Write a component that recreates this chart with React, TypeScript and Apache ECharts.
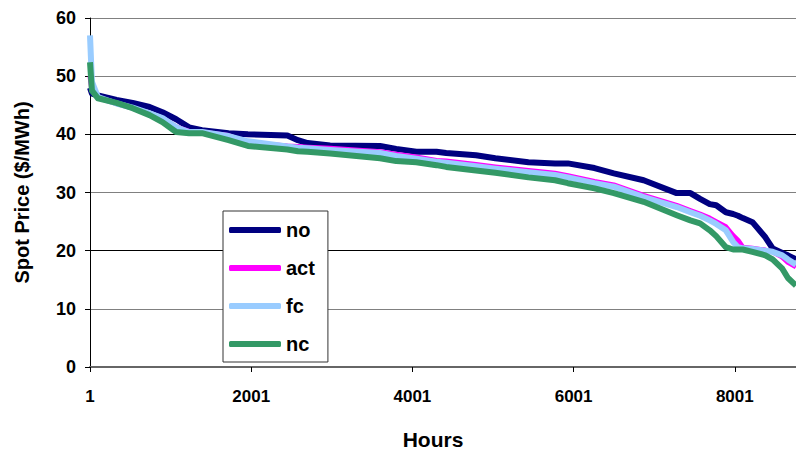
import React, { useEffect, useRef } from "react";
import * as echarts from "echarts";

// Hours elapsed since hour 1 (axis value = hour - 1)
const hours = [1, 25, 100, 330, 530, 740, 900, 1070, 1230, 1390, 1720, 1960, 2450, 2580, 2700, 2980, 3600, 3800, 4050, 4300, 4420, 4790, 5030, 5440, 5770, 5930, 6260, 6500, 6870, 7280, 7450, 7570, 7690, 7770, 7890, 7980, 8040, 8100, 8220, 8380, 8470, 8590, 8660, 8760];

const noValues = [48, 47, 46.7, 45.9, 45.4, 44.7, 43.8, 42.6, 41.2, 40.7, 40.2, 40.0, 39.8, 39.0, 38.5, 38.1, 38.0, 37.5, 37.0, 37.0, 36.8, 36.4, 35.9, 35.2, 35.0, 35.0, 34.2, 33.3, 32.1, 29.9, 29.9, 28.9, 28.0, 27.8, 26.6, 26.3, 26.0, 25.6, 24.9, 22.3, 20.4, 19.6, 19.2, 18.5];
const actValues = [50, 47.5, 46.3, 45.3, 44.5, 43.4, 42.8, 41.3, 40.5, 40.4, 39.8, 38.6, 38.0, 37.9, 37.8, 37.6, 37.0, 36.6, 36.1, 35.5, 35.4, 34.8, 34.4, 33.8, 33.3, 32.9, 31.9, 31.3, 29.5, 27.8, 26.9, 26.3, 25.6, 25.0, 24.1, 22.6, 21.8, 20.6, 20.4, 20.1, 19.8, 18.9, 18.0, 17.2];
const fcValues = [57, 49, 46.4, 45.3, 44.6, 43.6, 42.8, 41.2, 40.4, 40.4, 39.7, 38.8, 37.9, 37.7, 37.6, 37.3, 36.8, 36.3, 35.8, 35.3, 35.1, 34.5, 34.1, 33.5, 33.0, 32.6, 31.6, 31.0, 29.2, 27.5, 26.6, 26.0, 25.2, 24.6, 23.5, 21.5, 20.6, 20.4, 20.3, 20.0, 19.8, 19.2, 18.5, 17.6];
const ncValues = [52.4, 47.5, 46.2, 45.4, 44.5, 43.3, 42.1, 40.4, 40.2, 40.2, 39.0, 38.0, 37.4, 37.1, 37.0, 36.7, 35.9, 35.4, 35.2, 34.7, 34.4, 33.8, 33.4, 32.6, 32.1, 31.6, 30.7, 29.9, 28.4, 26.1, 25.2, 24.7, 23.5, 22.5, 20.6, 20.2, 20.2, 20.2, 19.8, 19.2, 18.5, 16.9, 15.3, 14.0];

const seriesNames = ["no", "act", "fc", "nc"];
const seriesColors = ["#000080", "#FF00FF", "#99CCFF", "#339966"];
const seriesWidths = [6, 5, 6, 6];

const FONT = "'Liberation Sans', Arial, sans-serif";

export default function App() {
  const ref = useRef<HTMLDivElement>(null);
  useEffect(() => {
    document.body.style.margin = "0";
    const chart = echarts.init(ref.current!, null, { renderer: "svg" });
    const all = [noValues, actValues, fcValues, ncValues];
    chart.setOption({
      animation: false,
      backgroundColor: "#ffffff",
      grid: { left: 90, top: 18, bottom: 88, right: -8 },
      legend: {
        orient: "vertical",
        left: 223,
        top: 211,
        padding: [9, 13, 8, 6],
        itemGap: 18,
        itemWidth: 52,
        itemHeight: 6,
        icon: "roundRect",
        borderColor: "#333333",
        borderWidth: 1,
        backgroundColor: "#ffffff",
        textStyle: { fontFamily: FONT, fontWeight: "bold", fontSize: 20, color: "#000", lineHeight: 20 },
        data: seriesNames,
      },
      xAxis: {
        type: "value",
        min: 0,
        max: 8759,
        interval: 2000,
        name: "Hours",
        nameLocation: "middle",
        nameGap: 62,
        nameTextStyle: { fontFamily: FONT, fontWeight: "bold", fontSize: 21, color: "#000", padding: [0, 20, 0, 0] },
        axisLine: { lineStyle: { color: "#666666", width: 2 } },
        axisTick: { inside: false, length: 5, lineStyle: { color: "#000" } },
        axisLabel: {
          fontFamily: FONT, fontWeight: "bold", fontSize: 17, color: "#000", margin: 21,
          showMaxLabel: false,
          formatter: (v: number) => String(v + 1),
        },
        splitLine: { show: false },
      },
      yAxis: {
        type: "value",
        min: 0,
        max: 60,
        interval: 10,
        name: "Spot Price ($/MWh)",
        nameLocation: "middle",
        nameGap: 58,
        nameTextStyle: { fontFamily: FONT, fontWeight: "bold", fontSize: 20, color: "#000" },
        axisLine: { show: true, lineStyle: { color: "#000", width: 1 } },
        axisTick: { show: true, length: 5, lineStyle: { color: "#000" } },
        axisLabel: { fontFamily: FONT, fontWeight: "bold", fontSize: 18, color: "#000", margin: 14 },
        splitLine: {
          show: true,
          lineStyle: { color: ["#000", "#808080", "#000", "#808080", "#000", "#808080", "#808080"], width: 1 },
        },
      },
      series: seriesNames.map((name, s) => ({
        name,
        type: "line",
        showSymbol: false,
        symbol: "none",
        color: seriesColors[s],
        lineStyle: { width: seriesWidths[s], color: seriesColors[s], join: "round" },
        data: hours.map((h, i) => [h - 1, all[s][i]]),
      })),
    });
    return () => chart.dispose();
  }, []);
  return <div ref={ref} style={{ width: 796, height: 455 }} />;
}
